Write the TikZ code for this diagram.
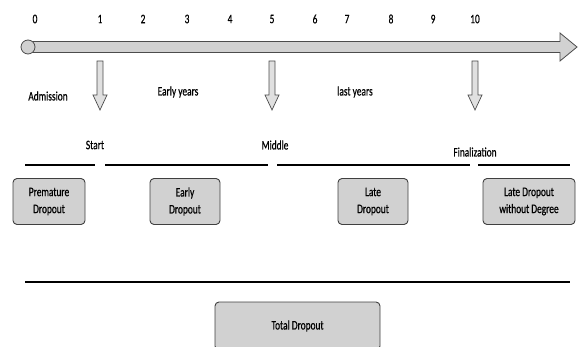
\documentclass[tikz,border=0pt]{standalone}
\usepackage{fontspec}
\setmainfont[FakeStretch=0.72,FakeBold=0.6]{Carlito}
\begin{document}
\begin{tikzpicture}[x=1pt,y=-1pt,
  lbl/.style={font=\fontsize{13}{14}\selectfont, inner sep=0pt},
  box/.style={draw=black!75, line width=0.9pt, fill=black!18, rounded corners=4pt, align=center, font=\fontsize{13}{17}\selectfont, inner sep=0pt},
  seg/.style={line width=2pt, black},
  tl/.style={draw=black!70, line width=0.8pt, fill=black!18},
  darrow/.style={draw=black!70, line width=0.7pt, fill=black!12}]
\clip (0,0) rectangle (578,347);
% timeline arrow
\path[tl] (28,41.5) -- (560,41.5) -- (560,33) -- (577,47) -- (560,61) -- (560,52.5) -- (28,52.5) -- cycle;
\node[tl, circle, minimum size=14pt, inner sep=0pt] (origin) at (28,47) {};
% year labels
\foreach \n/\x in {0/35,1/100,2/143,3/187,4/230,5/272,6/315,7/347,8/391,9/433,10/475}
  \node[lbl] (y\n) at (\x,19) {\n};
% down arrows
\foreach \nm/\x in {da/100,db/272,dc/475}
  \path[darrow] (\x-3,61) -- (\x+3,61) -- (\x+3,95) -- (\x+7,95) -- (\x,110) -- (\x-7,95) -- (\x-3,95) -- cycle;
% period labels
\node[lbl] (adm) at (48,96) {Admission};
\node[lbl] (early) at (178,92) {Early years};
\node[lbl] (last) at (355,92) {last years};
\node[lbl] (start) at (95,145) {Start};
\node[lbl] (middle) at (275,145) {Middle};
\node[lbl] (final) at (475,152) {Finalization};
% segment lines
\draw[seg] (25,165) -- (95,165);
\draw[seg] (105,165) -- (268,165);
\draw[seg] (277,165) -- (470,165);
\draw[seg] (478,165) -- (570,165);
\draw[seg] (25,282) -- (570,282);
% boxes
\node[box, minimum width=72pt, minimum height=46pt] (pre) at (49,201.5) {Premature\\Dropout};
\node[box, minimum width=70pt, minimum height=46pt] (earlyd) at (185,201.5) {Early\\Dropout};
\node[box, minimum width=70pt, minimum height=46pt] (late) at (373,201.5) {Late\\Dropout};
\node[box, minimum width=92pt, minimum height=46pt] (latewd) at (529,201.5) {Late Dropout\\without Degree};
\node[box, minimum width=165pt, minimum height=48pt] (total) at (297.5,326) {Total Dropout};
\end{tikzpicture}
\end{document}
